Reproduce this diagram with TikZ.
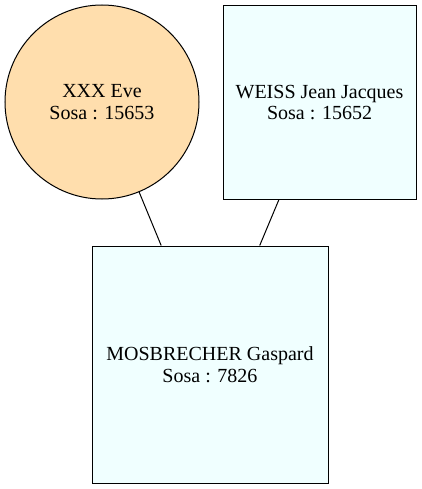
\documentclass[tikz,border=0pt]{standalone}
\usepackage{fontspec}
\setmainfont{Liberation Serif}
\usepackage{tikz}
\usetikzlibrary{positioning}
\definecolor{navajo}{HTML}{FFDEAD}
\definecolor{azurebox}{HTML}{F0FFFF}

\begin{document}
\begin{tikzpicture}[x=1pt,y=-1pt,
    person/.style={draw=black,line width=1pt,align=center,inner sep=0pt,
      font=\fontsize{20}{21.5}\selectfont},
    woman/.style={person,circle,fill=navajo,minimum size=194pt},
    man/.style={person,rectangle,fill=azurebox}]
  \useasboundingbox (0,0) rectangle (421,489);
  % parents
  \node[woman] (eve) at (102,102) {XXX Eve\\Sosa : 15653};
  \node[man,minimum width=193pt,minimum height=193pt] (weiss) at (319.5,102.5)
    {WEISS Jean Jacques\\Sosa : 15652};
  % child
  \node[man,minimum width=236pt,minimum height=237pt] (gaspard) at (210,364.5)
    {MOSBRECHER Gaspard\\Sosa : 7826};
  \draw[line width=1pt] (eve) -- (gaspard);
  \draw[line width=1pt] (weiss) -- (gaspard);
\end{tikzpicture}
\end{document}
